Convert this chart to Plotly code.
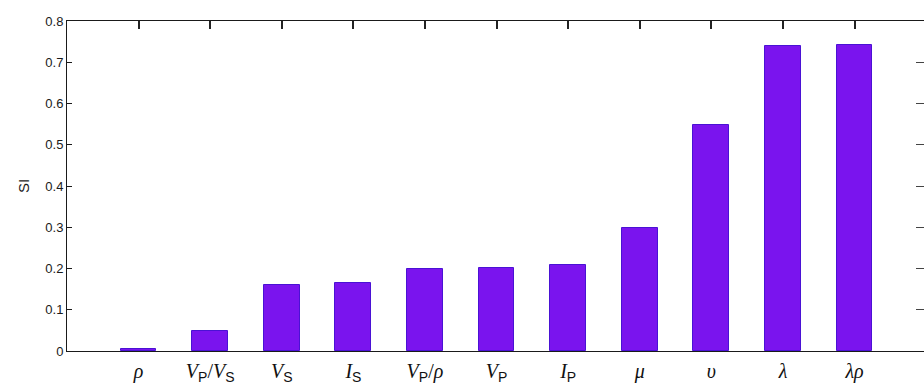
import plotly.graph_objects as go

# Sensitivity index for each elastic parameter
params = ["rho", "Vp/Vs", "Vs", "Is", "Vp/rho", "Vp", "Ip", "mu", "upsilon", "lambda", "lambda*rho"]
SUB = '<sub><span style="font-family:Liberation Sans">{}</span></sub>'
tick_labels = [
    "<i>ρ</i>",
    "<i>V</i>" + SUB.format("P") + "/<i>V</i>" + SUB.format("S"),
    "<i>V</i>" + SUB.format("S"),
    "<i>I</i>" + SUB.format("S"),
    "<i>V</i>" + SUB.format("P") + "/<i>ρ</i>",
    "<i>V</i>" + SUB.format("P"),
    "<i>I</i>" + SUB.format("P"),
    "<i>μ</i>",
    "<i>υ</i>",
    "<i>λ</i>",
    "<i>λρ</i>",
]
si_values = [0.005, 0.049, 0.160, 0.164, 0.198, 0.202, 0.208, 0.298, 0.549, 0.740, 0.741]
y_ticks = [0, 0.1, 0.2, 0.3, 0.4, 0.5, 0.6, 0.7, 0.8]
y_tick_text = ["0", "0.1", "0.2", "0.3", "0.4", "0.5", "0.6", "0.7", "0.8"]

positions = list(range(1, len(params) + 1))
x_range = [0, 11.97]

fig = go.Figure()
fig.add_trace(go.Bar(
    x=positions,
    y=si_values,
    width=0.5,
    marker=dict(color="#7A14EE", line=dict(color="#4A12D4", width=1)),
    hoverinfo="x+y",
))
# invisible trace so the top and right axes carry their own inward ticks
fig.add_trace(go.Scatter(x=[positions[0]], y=[0], xaxis="x2", yaxis="y2", mode="markers",
                         marker=dict(opacity=0), showlegend=False))

axis_color = "#1a1a1a"
fig.update_layout(
    width=924,
    height=385,
    margin=dict(l=67, r=0, t=21, b=34),
    paper_bgcolor="white",
    plot_bgcolor="white",
    showlegend=False,
    bargap=0,
    xaxis=dict(
        range=x_range,
        tickvals=positions,
        ticktext=tick_labels,
        ticks="",
        showline=True,
        linecolor=axis_color,
        linewidth=1,
        mirror=True,
        showgrid=False,
        zeroline=False,
        ticklabelstandoff=2,
        tickfont=dict(family="Liberation Serif", size=20, color="#111111"),
    ),
    xaxis2=dict(
        range=x_range,
        overlaying="x",
        side="top",
        anchor="y2",
        tickvals=positions,
        ticks="inside",
        ticklen=8,
        tickwidth=1.5,
        tickcolor="#222222",
        showticklabels=False,
        showgrid=False,
        zeroline=False,
    ),
    yaxis=dict(
        range=[0, 0.8],
        tickvals=y_ticks,
        ticktext=y_tick_text,
        ticks="inside",
        ticklen=5,
        tickcolor=axis_color,
        showline=True,
        linecolor=axis_color,
        linewidth=1,
        showgrid=False,
        zeroline=False,
        tickfont=dict(family="Liberation Sans", size=13, color="#1a1a1a"),
        title=dict(text="SI", font=dict(family="Liberation Sans", size=15, color="#1a1a1a"),
                   standoff=12),
    ),
    yaxis2=dict(
        range=[0, 0.8],
        overlaying="y",
        side="right",
        tickvals=y_ticks,
        ticks="inside",
        ticklen=8,
        tickwidth=1,
        tickcolor="#444444",
        showticklabels=False,
        showline=False,
        showgrid=False,
        zeroline=False,
    ),
)

fig.write_html("out.html")
